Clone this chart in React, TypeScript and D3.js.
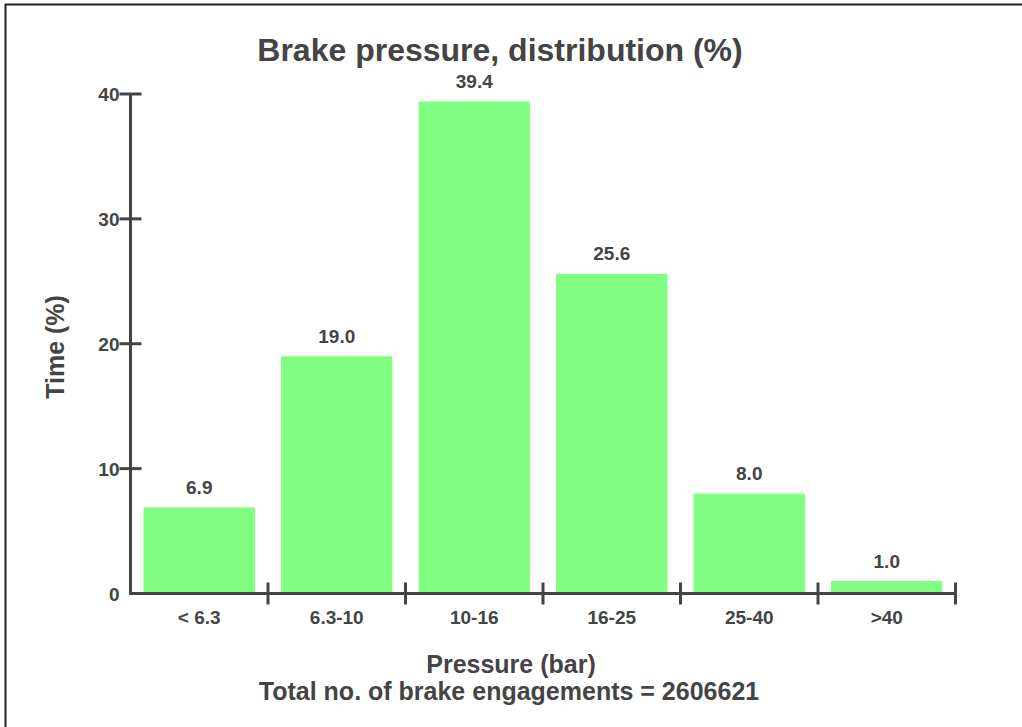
import React from "react";
import * as d3 from "d3";

const categories = ["< 6.3", "6.3-10", "10-16", "16-25", "25-40", ">40"];
const values = [6.9, 19.0, 39.4, 25.6, 8.0, 1.0];
const yTicks = [0, 10, 20, 30, 40];
const title = "Brake pressure, distribution (%)";
const xTitle = "Pressure (bar)";
const xSubTitle = "Total no. of brake engagements = 2606621";
const yTitle = "Time (%)";

const W = 1022;
const H = 727;
const left = 130.5;
const right = 955.5;
const bottom = 593.5;
const top = 94;
const ink = "#444";
const font = "'Liberation Sans', Arial, Helvetica, sans-serif";

export default function App() {
  const x = d3.scaleBand<string>().domain(categories).range([left, right]).padding(0);
  const y = d3.scaleLinear().domain([0, 40]).range([bottom, top]);
  const bw = x.bandwidth();
  const inset = bw * 0.095;
  const boundaries = categories.map((c) => (x(c) as number) + bw);

  return (
    <svg
      width={W}
      height={H}
      style={{ position: "absolute", left: 0, top: 0, background: "#fff" }}
      fontFamily={font}
    >
      <rect x={0} y={0} width={W} height={H} fill="#fff" />
      {/* frame */}
      <line x1={5} x2={W} y1={4.5} y2={4.5} stroke="#222" strokeWidth={2} />
      <line x1={5.5} x2={5.5} y1={4} y2={H} stroke="#222" strokeWidth={2} />

      <text x={500} y={61} textAnchor="middle" fontSize={32} fontWeight="bold" fill={ink}>
        {title}
      </text>

      {/* bars */}
      {categories.map((c, i) => (
        <g key={c}>
          <rect
            x={(x(c) as number) + inset}
            y={y(values[i])}
            width={bw - 2 * inset}
            height={bottom - y(values[i])}
            fill="#80ff80"
          />
          <text
            x={(x(c) as number) + bw / 2}
            y={y(values[i]) - 13.5}
            textAnchor="middle"
            fontSize={19}
            fontWeight="bold"
            fill={ink}
          >
            {values[i].toFixed(1)}
          </text>
          <text
            x={(x(c) as number) + bw / 2}
            y={624}
            textAnchor="middle"
            fontSize={19}
            fontWeight="bold"
            fill={ink}
          >
            {c}
          </text>
        </g>
      ))}

      {/* y axis */}
      <line x1={left} x2={left} y1={top - 1} y2={bottom + 1.5} stroke={ink} strokeWidth={3} />
      {yTicks.map((t) => (
        <g key={t}>
          {t > 0 && (
            <line x1={left - 11} x2={left + 11} y1={y(t)} y2={y(t)} stroke={ink} strokeWidth={3} />
          )}
          <text
            x={left - 11}
            y={y(t) + 7}
            textAnchor="end"
            fontSize={19}
            fontWeight="bold"
            fill={ink}
          >
            {t}
          </text>
        </g>
      ))}

      {/* x axis */}
      <line x1={left - 1.5} x2={right} y1={bottom} y2={bottom} stroke={ink} strokeWidth={3} />
      {boundaries.map((b, i) => (
        <line key={i} x1={b} x2={b} y1={bottom - 11} y2={bottom + 11} stroke={ink} strokeWidth={3} />
      ))}

      <text x={511} y={673} textAnchor="middle" fontSize={25} fontWeight="bold" fill={ink}>
        {xTitle}
      </text>
      <text x={509} y={700} textAnchor="middle" fontSize={25} fontWeight="bold" fill={ink}>
        {xSubTitle}
      </text>
      <text
        transform={`translate(64, 347) rotate(-90)`}
        textAnchor="middle"
        fontSize={25}
        fontWeight="bold"
        fill={ink}
      >
        {yTitle}
      </text>
    </svg>
  );
}
